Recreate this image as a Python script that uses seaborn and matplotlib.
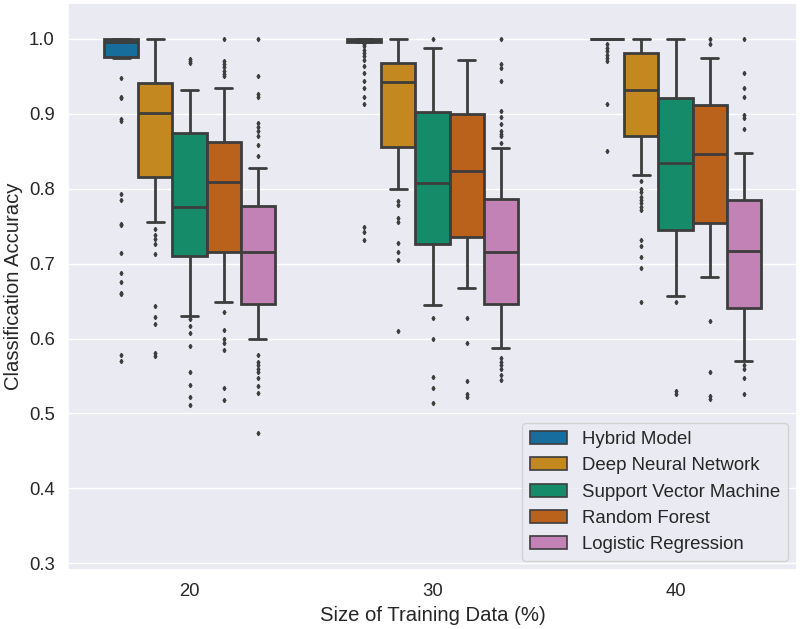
import numpy as np
import pandas as pd
import matplotlib
matplotlib.use("Agg")
import matplotlib.pyplot as plt
import seaborn as sns

sizes = ["20", "30", "40"]
models = ["Hybrid Model", "Deep Neural Network", "Support Vector Machine",
          "Random Forest", "Logistic Regression"]

# Box statistics: (whisker low, q1, median, q3, whisker high)
stats_20 = [
    (0.974, 0.976, 0.9956, 1.000, 1.000),
    (0.756, 0.816, 0.9016, 0.941, 1.000),
    (0.630, 0.710, 0.775, 0.874, 0.932),
    (0.6485, 0.715, 0.8095, 0.863, 0.934),
    (0.600, 0.646, 0.715, 0.7775, 0.8274),
]
stats_30 = [
    (0.9955, 0.9965, 0.999, 1.000, 1.000),
    (0.800, 0.856, 0.942, 0.9676, 1.000),
    (0.6445, 0.726, 0.808, 0.903, 0.988),
    (0.667, 0.736, 0.824, 0.8995, 0.9715),
    (0.588, 0.646, 0.716, 0.7864, 0.855),
]
stats_40 = [
    (1.000, 1.000, 1.000, 1.000, 1.000),
    (0.8184, 0.8705, 0.932, 0.981, 1.000),
    (0.657, 0.745, 0.835, 0.921, 1.000),
    (0.682, 0.754, 0.846, 0.9115, 0.974),
    (0.570, 0.641, 0.7174, 0.785, 0.8474),
]

# Outlying points
fliers_20 = [
    [0.948, 0.922, 0.921, 0.893, 0.891, 0.793, 0.785, 0.753, 0.751, 0.714,
     0.687, 0.675, 0.661, 0.659, 0.578, 0.5705],
    [0.746, 0.738, 0.733, 0.726, 0.713, 0.6435, 0.629, 0.619, 0.581, 0.577],
    [0.973, 0.971, 0.968, 0.626, 0.617, 0.608, 0.590, 0.556, 0.538, 0.522, 0.511],
    [1.000, 0.971, 0.966, 0.962, 0.957, 0.953, 0.950, 0.636, 0.6115, 0.600,
     0.5945, 0.585, 0.534, 0.518],
    [1.000, 0.951, 0.926, 0.922, 0.8875, 0.883, 0.877, 0.870, 0.858, 0.844,
     0.578, 0.569, 0.565, 0.560, 0.556, 0.547, 0.537, 0.527, 0.4744],
]
fliers_30 = [
    [0.993, 0.990, 0.985, 0.981, 0.977, 0.972, 0.964, 0.955, 0.944, 0.935,
     0.923, 0.913, 0.749, 0.742, 0.731],
    [0.783, 0.778, 0.761, 0.756, 0.728, 0.716, 0.705, 0.6106],
    [1.000, 0.627, 0.5995, 0.549, 0.5345, 0.5135],
    [0.627, 0.5945, 0.544, 0.526, 0.522],
    [1.000, 0.966, 0.961, 0.944, 0.904, 0.8955, 0.886, 0.877, 0.873, 0.870,
     0.861, 0.5737, 0.569, 0.565, 0.559, 0.5514, 0.545],
]
fliers_40 = [
    [0.993, 0.988, 0.984, 0.979, 0.975, 0.971, 0.913, 0.851],
    [0.811, 0.7993, 0.795, 0.789, 0.785, 0.781, 0.776, 0.772, 0.731, 0.723,
     0.7094, 0.6947, 0.649],
    [0.649, 0.530, 0.5256],
    [1.000, 0.993, 0.623, 0.556, 0.523, 0.519],
    [1.000, 0.954, 0.934, 0.922, 0.8985, 0.894, 0.8794, 0.565, 0.559, 0.548,
     0.5256],
]

# Build samples whose box statistics equal the values above
# (each statistic repeated so the quartiles and the 8th/92nd percentiles fall on it)
reps = [60, 100, 100, 100, 60]
rows = []
for size, stats_list, flier_list in zip(sizes, [stats_20, stats_30, stats_40],
                                        [fliers_20, fliers_30, fliers_40]):
    for model, st, fl in zip(models, stats_list, flier_list):
        vals = list(fl)
        for v, r in zip(st, reps):
            vals += [v] * r
        for v in vals:
            rows.append((size, model, v))
df = pd.DataFrame(rows, columns=["size", "model", "acc"])

sns.set_theme(style="darkgrid", palette="colorblind")
plt.rcParams["font.family"] = ["Liberation Sans", "DejaVu Sans"]

fig, ax = plt.subplots(figsize=(8, 6.29), dpi=100)
fig.subplots_adjust(left=68 / 800, right=797 / 800, top=1 - 3 / 629, bottom=1 - 570 / 629)

sns.boxplot(data=df, x="size", y="acc", hue="model", order=sizes, hue_order=models,
            width=0.7, whis=(8, 92), linewidth=2, linecolor="#3d3d3d",
            fliersize=2.2, flierprops=dict(marker="d", markerfacecolor="#3d3d3d",
                                           markeredgecolor="#3d3d3d"),
            ax=ax)

ax.set_ylim(0.291, 1.048)
ax.set_yticks([0.3, 0.4, 0.5, 0.6, 0.7, 0.8, 0.9, 1.0])
ax.tick_params(labelsize=13.3)
ax.set_xlabel("Size of Training Data (%)", fontsize=14.6)
ax.set_ylabel("Classification Accuracy", fontsize=14.6)
leg = ax.legend(loc="lower right", fontsize=13.4, title=None)
for h in leg.get_patches():
    h.set_linewidth(1.2)

fig.savefig("out.png", dpi=100)
